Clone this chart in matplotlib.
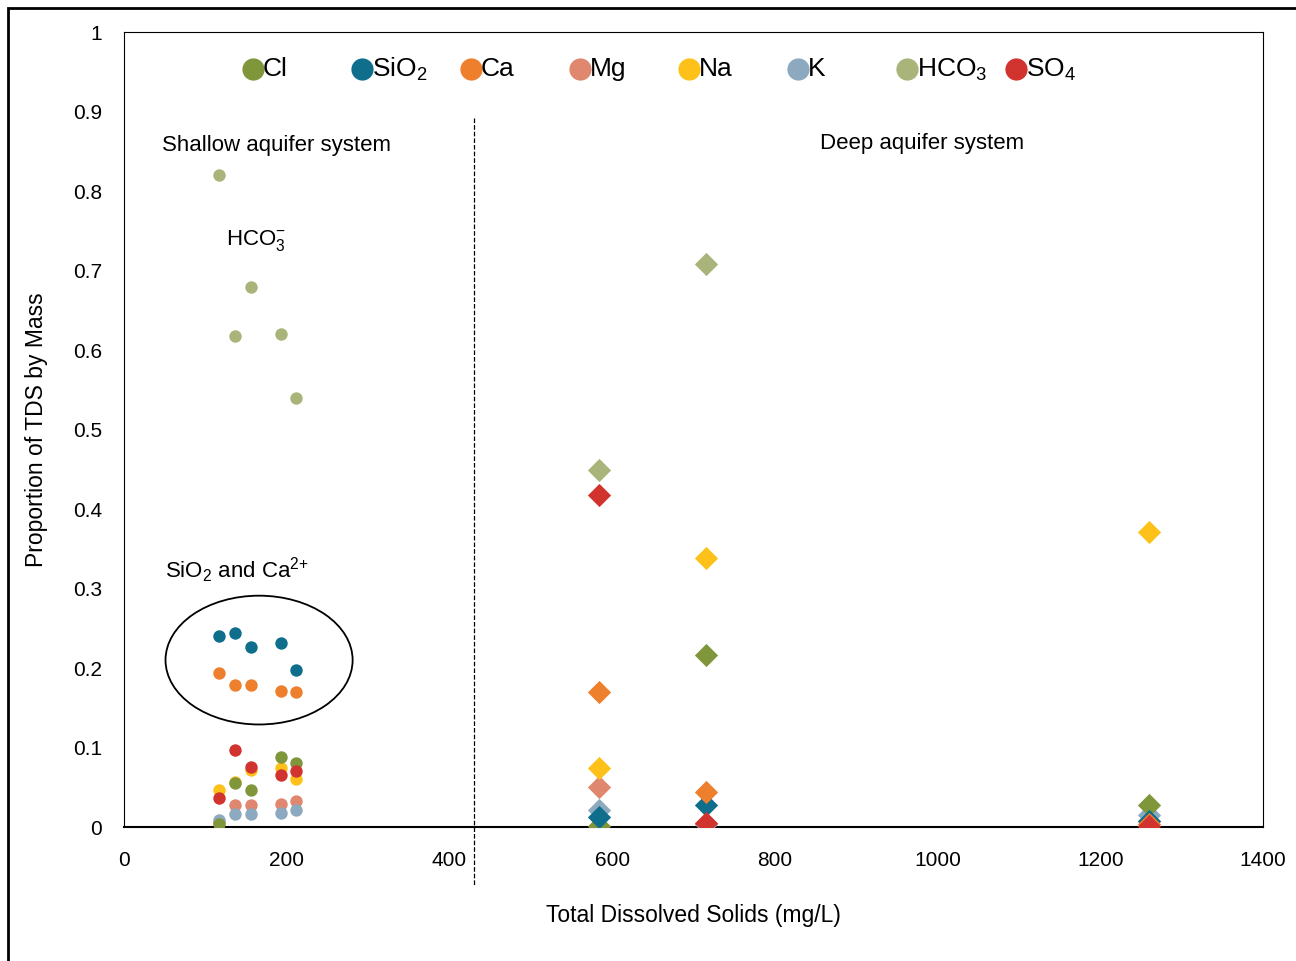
import matplotlib.pyplot as plt
from matplotlib.patches import Ellipse, Rectangle

plt.rcParams['font.family'] = ['Liberation Sans', 'DejaVu Sans']
plt.rcParams['mathtext.fontset'] = 'custom'
plt.rcParams['mathtext.rm'] = 'Liberation Sans'

# TDS (mg/L) of each sample: five shallow wells then three deep wells
tds = [117, 136, 156, 193, 212, 584, 715, 1260]
n_shallow = 5

# proportion of TDS by mass for each ion
cl = [0.004, 0.055, 0.046, 0.088, 0.081, 0.001, 0.216, 0.028]
sio2 = [0.240, 0.244, 0.226, 0.231, 0.197, 0.012, 0.028, 0.008]
ca = [0.194, 0.179, 0.179, 0.171, 0.170, 0.170, 0.044, 0.004]
mg = [0.006, 0.028, 0.028, 0.029, 0.033, 0.050, 0.004, 0.008]
na = [0.047, 0.057, 0.072, 0.074, 0.061, 0.074, 0.338, 0.371]
k = [0.009, 0.017, 0.016, 0.018, 0.021, 0.021, 0.004, 0.015]
hco3 = [0.820, 0.618, 0.679, 0.620, 0.540, 0.449, 0.708, 0.0]
so4 = [0.037, 0.097, 0.075, 0.065, 0.070, 0.418, 0.005, 0.001]

labels = ['Cl', 'SiO$_\\mathregular{2}$', 'Ca', 'Mg', 'Na', 'K',
          'HCO$_\\mathregular{3}$', 'SO$_\\mathregular{4}$']
values = [cl, sio2, ca, mg, na, k, hco3, so4]
colors = ['#7f973a', '#0e6e8c', '#ee7f2d', '#e08770', '#fdc11a', '#8da9bf',
          '#a9b47a', '#d1332e']
# stacking order of the series (first drawn at the bottom)
draw_order = [3, 5, 4, 0, 1, 2, 6, 7]

fig = plt.figure(figsize=(12.96, 9.61), dpi=100)
ax = fig.add_axes([0.0957, 0.1394, 0.8788, 0.8273])

for z, i in enumerate(draw_order):
    vals = values[i]
    ax.scatter(tds[:n_shallow], vals[:n_shallow], s=80, marker='o',
               color=colors[i], linewidths=0, zorder=3 + z)
    deep_x = [x for x, v in zip(tds[n_shallow:], vals[n_shallow:]) if v > 0]
    deep_y = [v for v in vals[n_shallow:] if v > 0]
    ax.scatter(deep_x, deep_y, s=140, marker='D',
               color=colors[i], linewidths=0, zorder=3 + z)

ax.set_xlim(0, 1400)
ax.set_ylim(0, 1)
ax.set_xticks(range(0, 1401, 200))
ax.set_yticks([i / 10 for i in range(11)])
ax.set_yticklabels(['0'] + ['0.%d' % i for i in range(1, 10)] + ['1'])
ax.tick_params(length=0, labelsize=15)
ax.tick_params(axis='x', pad=17)
ax.tick_params(axis='y', pad=16)
for side in ['left', 'top', 'right']:
    ax.spines[side].set_linewidth(0.8)
ax.spines['bottom'].set_linewidth(1.5)

ax.set_xlabel('Total Dissolved Solids (mg/L)', fontsize=16.5, labelpad=25)
ax.set_ylabel('Proportion of TDS by Mass', fontsize=16.5, labelpad=18)

# boundary between shallow and deep aquifer systems
ax.plot([430, 430], [0.892, -0.073], ls='--', lw=0.9, color='black',
        clip_on=False, zorder=2)

ax.add_patch(Ellipse((166, 0.210), 230, 0.162, fill=False, lw=1.3,
                     edgecolor='black', zorder=2))

ax.text(188, 0.857, 'Shallow aquifer system', ha='center', va='center', fontsize=16)
ax.text(981, 0.860, 'Deep aquifer system', ha='center', va='center', fontsize=16)
ax.text(162, 0.738, 'HCO$^{\\mathregular{-}}_{\\mathregular{3}}$', ha='center',
        va='center', fontsize=16)
ax.text(139, 0.323, 'SiO$_\\mathregular{2}$ and Ca$^{\\mathregular{2{+}}}$',
        ha='center', va='center', fontsize=16)

# evenly spaced legend row across the top of the plot
for j, (lab, col) in enumerate(zip(labels, colors)):
    lx = 0.113 + j * 0.0957
    ax.plot([lx], [0.953], marker='o', ms=16, color=col, mew=0,
            transform=ax.transAxes, clip_on=False)
    ax.text(lx + 0.009, 0.953, lab, transform=ax.transAxes, ha='left',
            va='center', fontsize=19)

fig.add_artist(Rectangle((0.0065, -0.1), 1.2, 1.0917, transform=fig.transFigure,
                         fill=False, lw=2, edgecolor='black'))

fig.savefig('out.png', dpi=100)
